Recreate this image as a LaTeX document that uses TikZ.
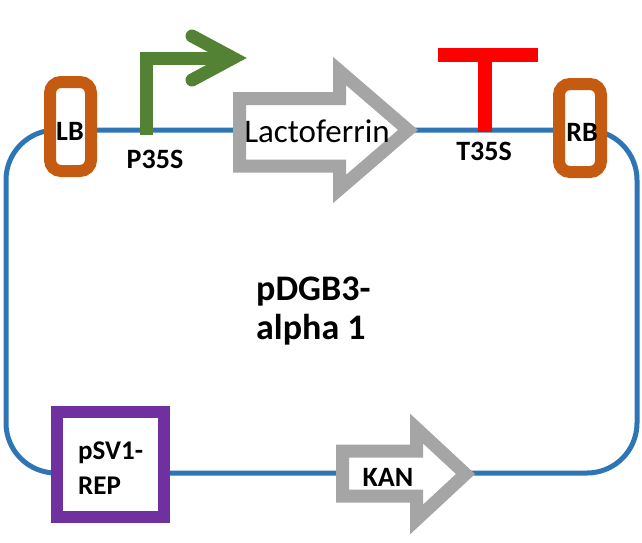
\documentclass[tikz,border=0pt]{standalone}
\usepackage{fontspec}
\setmainfont{Carlito}
\definecolor{bb}{RGB}{46,117,182}
\definecolor{borange}{RGB}{197,90,17}
\definecolor{pgreen}{RGB}{84,130,53}
\definecolor{tred}{RGB}{255,0,0}
\definecolor{agray}{RGB}{165,165,165}
\definecolor{rpurple}{RGB}{112,48,160}
\tikzset{
  backbone/.style={draw=bb,line width=5pt},
  border/.style={draw=borange,line width=12pt,fill=white,rounded corners=11pt,inner sep=0pt},
  lbl/.style={font=\fontsize{28}{32}\selectfont\bfseries,inner sep=0pt},
  cds/.style={draw=agray,line width=13pt,fill=white,miter limit=10},
}
\begin{document}
\begin{tikzpicture}[x=1pt,y=-1pt]
\useasboundingbox (0,0) rectangle (642,542);
% plasmid backbone
\draw[backbone,rounded corners=50pt] (6,130) rectangle (637,473);
% borders
\node[border,minimum width=41pt,minimum height=89pt] (LBbox) at (70.5,126.5) {};
\node[lbl] (LB) at (70,131) {LB};
\node[border,minimum width=42pt,minimum height=88pt] (RBbox) at (580,128) {};
\node[lbl] (RB) at (582,132) {RB};
% promoter
\draw[pgreen,line width=13pt] (146.5,135) -- (146.5,58) -- (228,58);
\draw[pgreen,line width=13pt,line cap=round,line join=miter] (192,36) -- (233,58) -- (192,80);
\node[lbl] (P35S) at (155,159) {P35S};
% Lactoferrin CDS
\draw[cds] (239.5,98.5) -- (339.5,98.5) -- (339.5,71) -- (408,130) -- (339.5,189) -- (339.5,166) -- (239.5,166) -- cycle;
\node[font=\fontsize{33}{36}\selectfont,inner sep=0pt,anchor=base] (lacto) at (317,142) {Lactoferrin};
% terminator
\draw[tred,line width=14pt] (438,55) -- (538,55);
\draw[tred,line width=14pt] (485,55) -- (485,132);
\node[lbl] (T35S) at (484,151) {T35S};
% center label
\node[font=\fontsize{36}{39}\selectfont\bfseries,inner sep=0pt,align=left,anchor=west] (name) at (256,311) {pDGB3-\\alpha 1};
% pSV1-REP
\node[draw=rpurple,line width=12pt,fill=white,minimum width=107pt,minimum height=105pt,inner sep=0pt] (rep) at (110.5,464.5) {};
\node[lbl,align=left,anchor=west,font=\fontsize{27}{35}\selectfont\bfseries] (reptxt) at (78,468) {pSV1-\\REP};
% KAN
\draw[cds] (342.5,451) -- (416.5,451) -- (416.5,428.5) -- (465.5,474) -- (416.5,519.5) -- (416.5,496) -- (342.5,496) -- cycle;
\node[lbl] (KAN) at (388,477) {KAN};
\end{tikzpicture}
\end{document}
